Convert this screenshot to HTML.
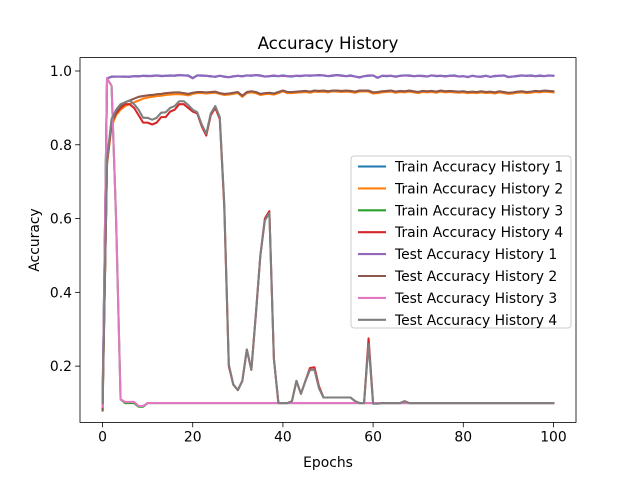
<!DOCTYPE html>
<html><head><meta charset="utf-8"><style>body{margin:0;background:#fff}svg{display:block;font-family:"DejaVu Sans","Liberation Sans",sans-serif}</style></head>
<body>
<svg id="chart" width="640" height="480" viewBox="0 0 640 480" xmlns="http://www.w3.org/2000/svg"></svg>
<script>
const xTicks=[0,20,40,60,80,100];
const yTicks=[0.2,0.4,0.6,0.8,1.0];
const yTickLabels=["0.2","0.4","0.6","0.8","1.0"];
const seriesNames=["Train Accuracy History 1","Train Accuracy History 2","Train Accuracy History 3","Train Accuracy History 4","Test Accuracy History 1","Test Accuracy History 2","Test Accuracy History 3","Test Accuracy History 4"];
const train1=[0.10,0.98,0.985,0.985,0.985,0.985,0.984,0.986,0.986,0.987,0.986,0.987,0.988,0.986,0.987,0.988,0.987,0.989,0.988,0.988,0.981,0.988,0.988,0.987,0.986,0.984,0.987,0.985,0.983,0.985,0.987,0.986,0.988,0.987,0.989,0.988,0.985,0.986,0.987,0.986,0.988,0.986,0.985,0.987,0.986,0.988,0.987,0.988,0.989,0.988,0.986,0.987,0.989,0.988,0.986,0.988,0.985,0.983,0.986,0.987,0.988,0.982,0.987,0.986,0.987,0.985,0.987,0.988,0.988,0.986,0.987,0.987,0.985,0.988,0.986,0.987,0.986,0.987,0.988,0.985,0.986,0.984,0.987,0.985,0.985,0.987,0.984,0.986,0.987,0.988,0.984,0.985,0.986,0.988,0.987,0.988,0.986,0.987,0.986,0.988,0.987];
const test1=[0.10,0.98,0.984,0.985,0.985,0.984,0.985,0.986,0.985,0.987,0.987,0.986,0.988,0.987,0.987,0.987,0.988,0.989,0.988,0.987,0.980,0.988,0.987,0.987,0.985,0.985,0.987,0.984,0.983,0.986,0.987,0.985,0.988,0.988,0.989,0.987,0.985,0.986,0.988,0.986,0.987,0.986,0.986,0.987,0.987,0.988,0.988,0.988,0.988,0.988,0.986,0.988,0.989,0.987,0.986,0.987,0.985,0.982,0.986,0.988,0.988,0.981,0.987,0.987,0.987,0.984,0.987,0.988,0.987,0.986,0.987,0.986,0.985,0.988,0.987,0.987,0.985,0.987,0.987,0.985,0.986,0.983,0.987,0.985,0.984,0.987,0.984,0.987,0.987,0.988,0.983,0.985,0.987,0.988,0.987,0.987,0.986,0.988,0.986,0.988,0.987];
const train2=[0.08,0.75,0.85,0.88,0.895,0.905,0.91,0.915,0.92,0.925,0.928,0.93,0.932,0.933,0.935,0.936,0.937,0.937,0.936,0.934,0.938,0.94,0.94,0.939,0.94,0.941,0.938,0.935,0.936,0.938,0.94,0.93,0.94,0.942,0.94,0.935,0.937,0.938,0.936,0.94,0.945,0.94,0.94,0.941,0.942,0.943,0.941,0.944,0.943,0.944,0.942,0.945,0.944,0.943,0.944,0.943,0.941,0.944,0.945,0.944,0.939,0.94,0.942,0.943,0.944,0.941,0.943,0.942,0.944,0.942,0.94,0.943,0.942,0.943,0.941,0.944,0.942,0.943,0.942,0.941,0.942,0.94,0.941,0.94,0.942,0.94,0.941,0.939,0.942,0.94,0.938,0.939,0.941,0.942,0.94,0.941,0.943,0.942,0.944,0.943,0.942];
const test2=[0.08,0.76,0.86,0.89,0.905,0.915,0.92,0.925,0.93,0.932,0.934,0.935,0.937,0.938,0.94,0.941,0.942,0.942,0.94,0.938,0.941,0.943,0.943,0.942,0.943,0.944,0.94,0.938,0.939,0.941,0.943,0.933,0.943,0.945,0.943,0.938,0.94,0.941,0.939,0.943,0.947,0.943,0.943,0.944,0.945,0.946,0.944,0.947,0.946,0.947,0.945,0.947,0.947,0.946,0.947,0.946,0.944,0.947,0.947,0.947,0.942,0.943,0.945,0.946,0.947,0.944,0.946,0.945,0.947,0.945,0.943,0.946,0.945,0.946,0.944,0.947,0.945,0.946,0.945,0.944,0.945,0.943,0.944,0.943,0.945,0.943,0.944,0.942,0.945,0.943,0.941,0.942,0.944,0.945,0.943,0.944,0.946,0.945,0.947,0.946,0.945];
const train3=[0.08,0.98,0.96,0.6,0.11,0.1,0.1,0.1,0.09,0.09,0.1,0.1,0.1,0.1,0.1,0.1,0.1,0.1,0.1,0.1,0.1,0.1,0.1,0.1,0.1,0.1,0.1,0.1,0.1,0.1,0.1,0.1,0.1,0.1,0.1,0.1,0.1,0.1,0.1,0.1,0.1,0.1,0.1,0.1,0.1,0.1,0.1,0.1,0.1,0.1,0.1,0.1,0.1,0.1,0.1,0.1,0.1,0.1,0.1,0.1,0.1,0.1,0.1,0.1,0.1,0.1,0.1,0.1,0.1,0.1,0.1,0.1,0.1,0.1,0.1,0.1,0.1,0.1,0.1,0.1,0.1,0.1,0.1,0.1,0.1,0.1,0.1,0.1,0.1,0.1,0.1,0.1,0.1,0.1,0.1,0.1,0.1,0.1,0.1,0.1,0.1];
const test3=[0.09,0.98,0.96,0.6,0.11,0.103,0.103,0.103,0.092,0.092,0.1,0.1,0.1,0.1,0.1,0.1,0.1,0.1,0.1,0.1,0.1,0.1,0.1,0.1,0.1,0.1,0.1,0.1,0.1,0.1,0.1,0.1,0.1,0.1,0.1,0.1,0.1,0.1,0.1,0.1,0.1,0.1,0.1,0.1,0.1,0.1,0.1,0.1,0.1,0.1,0.1,0.1,0.1,0.1,0.1,0.1,0.1,0.1,0.1,0.1,0.1,0.1,0.1,0.1,0.1,0.1,0.1,0.1,0.1,0.1,0.1,0.1,0.1,0.1,0.1,0.1,0.1,0.1,0.1,0.1,0.1,0.1,0.1,0.1,0.1,0.1,0.1,0.1,0.1,0.1,0.1,0.1,0.1,0.1,0.1,0.1,0.1,0.1,0.1,0.1,0.1];
const train4=[0.1,0.75,0.86,0.885,0.9,0.91,0.91,0.9,0.88,0.86,0.86,0.855,0.86,0.875,0.875,0.89,0.895,0.91,0.91,0.9,0.89,0.885,0.85,0.825,0.88,0.9,0.87,0.63,0.2,0.15,0.135,0.16,0.245,0.19,0.34,0.5,0.6,0.62,0.22,0.1,0.1,0.1,0.105,0.16,0.125,0.16,0.195,0.197,0.145,0.115,0.115,0.115,0.115,0.115,0.115,0.115,0.105,0.1,0.1,0.275,0.1,0.1,0.1,0.1,0.1,0.1,0.1,0.105,0.1,0.1,0.1,0.1,0.1,0.1,0.1,0.1,0.1,0.1,0.1,0.1,0.1,0.1,0.1,0.1,0.1,0.1,0.1,0.1,0.1,0.1,0.1,0.1,0.1,0.1,0.1,0.1,0.1,0.1,0.1,0.1,0.1];
const test4=[0.1,0.76,0.87,0.895,0.91,0.915,0.92,0.91,0.895,0.873,0.873,0.868,0.873,0.887,0.888,0.9,0.905,0.918,0.918,0.908,0.895,0.888,0.855,0.83,0.885,0.905,0.875,0.64,0.205,0.15,0.135,0.16,0.245,0.19,0.34,0.5,0.595,0.615,0.22,0.1,0.1,0.1,0.105,0.16,0.125,0.16,0.19,0.19,0.14,0.115,0.115,0.115,0.115,0.115,0.115,0.115,0.105,0.1,0.1,0.26,0.098,0.098,0.1,0.1,0.1,0.1,0.1,0.105,0.1,0.1,0.1,0.1,0.1,0.1,0.1,0.1,0.1,0.1,0.1,0.1,0.1,0.1,0.1,0.1,0.1,0.1,0.1,0.1,0.1,0.1,0.1,0.1,0.1,0.1,0.1,0.1,0.1,0.1,0.1,0.1,0.1];
const colors=["#1f77b4","#ff7f0e","#2ca02c","#d62728","#9467bd","#8c564b","#e377c2","#7f7f7f"];
const allSeries=[train1,train2,train3,train4,test1,test2,test3,test4];

const NS="http://www.w3.org/2000/svg";
const svg=document.getElementById('chart');
const L=80,R=576,T=57.6,B=422.4;
const xMin=-5,xMax=105,yMin=0.0475,yMax=1.0363;
const xs=v=>L+(v-xMin)/(xMax-xMin)*(R-L);
const ys=v=>B-(v-yMin)/(yMax-yMin)*(B-T);
function mk(tag,attrs,parent){const e=document.createElementNS(NS,tag);for(const k in attrs)e.setAttribute(k,attrs[k]);(parent||svg).appendChild(e);return e;}

const plot=mk('g',{});


allSeries.forEach((s,i)=>{
  const p=mk('polyline',{points:s.map((v,j)=>xs(j).toFixed(2)+','+ys(v).toFixed(2)).join(' '),fill:'none',stroke:colors[i],'stroke-width':2.08,'stroke-linejoin':'round','stroke-linecap':'square'},plot);
  
  
});
const frame=mk('rect',{x:L,y:T,width:R-L,height:B-T,fill:'none',stroke:'#000','stroke-width':0.8});



xTicks.forEach(t=>{
  const x=xs(t);
  const l=mk('line',{x1:x,x2:x,y1:B,y2:B+4.9,stroke:'#000','stroke-width':0.8});
  
  
  const tx=mk('text',{x:x,y:B+19,'text-anchor':'middle','font-size':13.9,fill:'#000'});
  tx.textContent=String(t);
  
  
});
yTicks.forEach((t,i)=>{
  const y=ys(t);
  const l=mk('line',{x1:L-4.9,x2:L,y1:y,y2:y,stroke:'#000','stroke-width':0.8});
  
  
  const tx=mk('text',{x:L-8,y:y+5,'text-anchor':'end','font-size':13.9,fill:'#000'});
  tx.textContent=yTickLabels[i];
  
  
});
const title=mk('text',{x:(L+R)/2,y:49,'text-anchor':'middle','font-size':16.7,fill:'#000'});
title.textContent='Accuracy History';


const xl=mk('text',{x:(L+R)/2,y:467,'text-anchor':'middle','font-size':13.9,fill:'#000'});
xl.textContent='Epochs';


const yl=mk('text',{x:0,y:0,'text-anchor':'middle','font-size':13.9,fill:'#000',transform:'translate(39,240) rotate(-90)'});
yl.textContent='Accuracy';



const leg=mk('g',{});


mk('rect',{x:351,y:156,width:220,height:172,rx:3,fill:'#fff','fill-opacity':0.8,stroke:'#ccc','stroke-width':1},leg);
seriesNames.forEach((n,i)=>{
  const y=166.5+i*21.9;
  const g=mk('g',{},leg);
  
  
  mk('line',{x1:358,x2:386,y1:y,y2:y,stroke:colors[i],'stroke-width':2.08},g);
  const t=mk('text',{x:395,y:y+5,'font-size':13.9,fill:'#000'},g);
  t.textContent=n;
});
</script>
</body></html>
